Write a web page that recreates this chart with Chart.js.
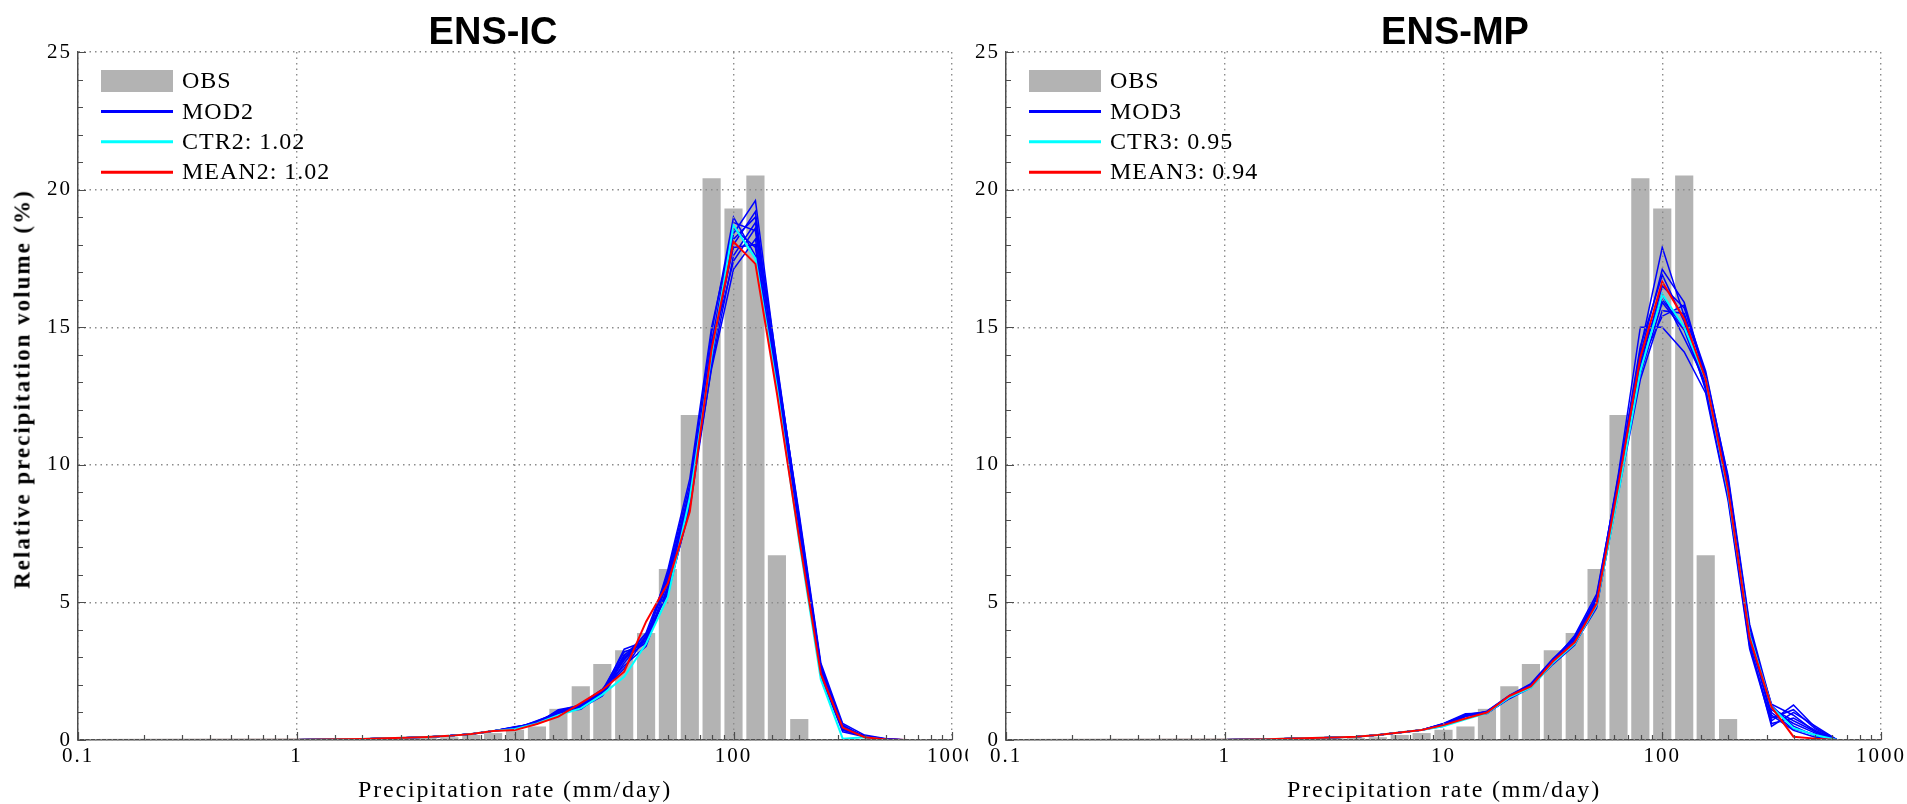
<!DOCTYPE html>
<html>
<head>
<meta charset="utf-8">
<script src="https://cdn.jsdelivr.net/npm/chart.js@4.4.0/dist/chart.umd.min.js"></script>
<style>
  html, body { margin: 0; padding: 0; background: #fff; }
  body { width: 1907px; height: 804px; position: relative; overflow: hidden; font-family: "Liberation Serif", serif; color: #000; }
  .panel { position: absolute; top: 0; height: 804px; }
  #panelIC { left: 0; width: 968px; }
  #panelMP { left: 965px; width: 942px; }
  .title { position: absolute; top: 10px; line-height: 1; font: bold 38px "Liberation Sans", Arial, sans-serif; transform: translateX(-50%); white-space: nowrap; color: #000; }
  .xlabel { position: absolute; top: 777px; line-height: 1; font-size: 24px; letter-spacing: 1.8px; transform: translateX(-50%); white-space: nowrap; }
  .ylabel { position: absolute; left: 22px; top: 389px; line-height: 1; font-size: 23px; font-weight: bold; letter-spacing: 2px; white-space: nowrap; transform: translate(-50%, -50%) rotate(-90deg); }
</style>
</head>
<body>
<div class="panel" id="panelIC"><canvas id="chartIC"></canvas></div>
<div class="panel" id="panelMP"><canvas id="chartMP"></canvas></div>
<div class="title" style="left: 493px;">ENS-IC</div>
<div class="title" style="left: 1455px;">ENS-MP</div>
<div class="xlabel" style="left: 515px;">Precipitation rate (mm/day)</div>
<div class="xlabel" style="left: 1444px;">Precipitation rate (mm/day)</div>
<div class="ylabel">Relative precipitation volume (%)</div>

<script>
// Observed histogram (same in both panels), bins are 0.1 decade wide
const obsRates = [1, 1.26, 1.58, 2, 2.51, 3.16, 3.98, 5.01, 6.31, 7.94, 10, 12.6, 15.8, 20, 25.1, 31.6, 39.8, 50.1, 63.1, 79.4, 100, 126, 158, 200];
const obsVolume = [0.005, 0.007, 0.01, 0.015, 0.025, 0.04, 0.06, 0.09, 0.17, 0.24, 0.36, 0.48, 1.12, 1.94, 2.75, 3.25, 3.88, 6.2, 11.8, 20.4, 19.3, 20.5, 6.7, 0.75];

// Model curves are drawn at these rates
const lineRates = [0.1, 1, 1.26, 1.58, 2, 2.51, 3.16, 3.98, 5.01, 6.31, 7.94, 10, 12.6, 15.8, 20, 25.1, 31.6, 39.8, 50.1, 63.1, 79.4, 100, 126, 158, 200, 251, 316, 398, 501, 631, 1000];

// Low tail (0.1 .. 7.94), shared by the curves of a panel
const tailIC = [0, 0.01, 0.02, 0.03, 0.04, 0.06, 0.08, 0.11, 0.15, 0.22, 0.33];
const tailMP = [0, 0.01, 0.02, 0.03, 0.05, 0.07, 0.09, 0.12, 0.18, 0.27, 0.36];

// ENS-IC, rates 10 .. 1000
const meanIC = [0.36, 0.58, 0.85, 1.34, 1.82, 2.48, 4.3, 5.7, 8.3, 14.2, 18.1, 17.3, 12.6, 7.3, 2.4, 0.45, 0.1, 0.02, 0, 0];
const ctrIC = [0.4, 0.6, 0.9, 1.15, 1.65, 2.3, 3.5, 5.2, 8.8, 14.0, 18.7, 17.5, 12.8, 7.2, 2.2, 0.05, 0.1, 0, 0, 0];
const modIC = [
  [0.45, 0.62, 1.05, 1.2, 1.75, 3.1, 3.6, 6.1, 9.3, 14.8, 19.0, 17.6, 13.2, 7.8, 2.6, 0.4, 0.15, 0.03, 0, 0],
  [0.42, 0.66, 1.0, 1.15, 1.6, 2.8, 3.8, 5.8, 8.9, 14.4, 18.8, 18.5, 13.4, 7.6, 2.5, 0.5, 0.12, 0.02, 0, 0],
  [0.48, 0.6, 1.1, 1.25, 1.8, 3.2, 3.5, 5.5, 8.6, 13.8, 18.4, 19.6, 13.6, 8.1, 2.7, 0.45, 0.1, 0.02, 0, 0],
  [0.4, 0.7, 0.98, 1.22, 1.7, 2.9, 3.9, 6.0, 9.1, 14.1, 18.0, 19.2, 13.0, 7.9, 2.4, 0.35, 0.15, 0.04, 0, 0],
  [0.44, 0.58, 1.08, 1.18, 1.65, 3.0, 3.7, 5.4, 8.4, 13.6, 17.6, 18.8, 13.3, 7.5, 2.6, 0.55, 0.1, 0.02, 0, 0],
  [0.46, 0.64, 0.95, 1.3, 1.85, 2.7, 3.4, 5.6, 8.7, 13.5, 17.1, 18.2, 13.5, 8.2, 2.8, 0.6, 0.18, 0.05, 0, 0],
  [0.43, 0.68, 1.02, 1.12, 1.72, 3.3, 3.6, 6.2, 9.5, 15.0, 18.6, 17.9, 12.9, 7.4, 2.3, 0.3, 0.12, 0.03, 0, 0],
  [0.47, 0.61, 1.06, 1.28, 1.78, 2.6, 3.75, 5.9, 9.0, 14.5, 17.9, 18.0, 13.1, 7.7, 2.5, 0.42, 0.1, 0.02, 0, 0],
  [0.41, 0.65, 0.97, 1.24, 1.68, 3.05, 3.85, 5.3, 8.5, 13.9, 18.2, 19.0, 13.7, 8.0, 2.7, 0.5, 0.14, 0.03, 0, 0],
  [0.45, 0.63, 1.04, 1.16, 1.76, 2.95, 3.55, 5.75, 8.8, 14.2, 17.4, 18.6, 13.2, 7.6, 2.45, 0.38, 0.11, 0.02, 0, 0],
];

// ENS-MP, rates 10 .. 1000
const meanMP = [0.54, 0.78, 1.0, 1.6, 1.95, 2.85, 3.55, 4.95, 9.3, 13.9, 16.65, 15.3, 13.1, 9.1, 3.7, 1.2, 0.12, 0.05, 0, 0];
const ctrMP = [0.5, 0.75, 0.98, 1.55, 1.9, 2.8, 3.5, 4.9, 9.0, 13.4, 16.2, 15.0, 13.1, 9.0, 3.8, 1.2, 0.43, 0.18, 0, 0];
const modMP = [
  [0.55, 0.9, 1.0, 1.55, 2.0, 2.9, 3.6, 5.1, 9.4, 14.2, 17.9, 15.4, 12.9, 9.2, 3.6, 1.0, 0.4, 0.2, 0, 0],
  [0.6, 0.95, 0.98, 1.5, 1.9, 2.8, 3.5, 4.8, 9.1, 14.0, 17.1, 15.9, 13.2, 9.4, 3.9, 1.3, 0.9, 0.3, 0, 0],
  [0.52, 0.85, 1.05, 1.62, 2.05, 2.95, 3.7, 5.2, 9.6, 14.3, 16.9, 15.2, 12.7, 8.8, 3.4, 0.7, 1.27, 0.45, 0, 0],
  [0.58, 0.92, 1.02, 1.58, 1.95, 2.75, 3.45, 5.0, 9.2, 13.6, 16.5, 15.7, 13.4, 9.5, 4.1, 1.1, 0.6, 0.25, 0, 0],
  [0.5, 0.88, 0.96, 1.52, 1.98, 2.85, 3.8, 5.3, 9.5, 13.8, 16.2, 14.6, 13.0, 9.0, 3.5, 0.5, 1.0, 0.5, 0, 0],
  [0.57, 0.93, 1.03, 1.6, 2.02, 2.9, 3.55, 4.9, 9.3, 13.3, 15.9, 14.9, 12.8, 9.3, 3.8, 0.9, 0.35, 0.1, 0, 0],
  [0.53, 0.87, 0.99, 1.56, 1.92, 2.8, 3.65, 5.05, 9.7, 15.0, 15.0, 14.1, 12.6, 8.7, 3.3, 0.6, 0.8, 0.35, 0, 0],
  [0.56, 0.9, 1.01, 1.54, 1.97, 2.88, 3.5, 4.85, 9.0, 13.1, 15.6, 15.5, 13.3, 9.6, 4.2, 1.25, 0.5, 0.15, 0, 0],
  [0.54, 0.86, 1.04, 1.59, 2.0, 2.92, 3.75, 5.15, 9.4, 14.1, 16.0, 15.0, 13.0, 9.1, 3.7, 0.8, 1.1, 0.4, 0, 0],
  [0.59, 0.91, 0.97, 1.53, 1.94, 2.82, 3.6, 4.95, 9.2, 13.7, 15.4, 15.8, 13.1, 9.2, 3.9, 1.15, 0.7, 0.3, 0, 0],
];

const xMin = 0.1;
const xMax = 1000;
const yMax = 25;
const yStep = 5;

const colors = {
  obs: "#b3b3b3",
  mod: "#0000ff",
  ctr: "#00ffff",
  mean: "#ff0000",
  grid: "#8c8c8c",
  axis: "#4d4d4d",
};

const tickFont = { family: "'Liberation Serif', serif", size: 21 };

const isDecade = (v) => {
  const l = Math.log10(v);
  return Math.abs(l - Math.round(l)) < 1e-6;
};

const toPoints = (xs, ys) => xs.map((x, i) => ({ x, y: ys[i] }));

// The original tick labels are a wide serif, so space the canvas text a little
const letterSpacingPlugin = {
  id: "letterSpacing",
  beforeDraw(chart) {
    chart.ctx.letterSpacing = "2px";
  },
  afterDraw(chart) {
    chart.ctx.letterSpacing = "0px";
  },
};

// Small inward tick marks on the bottom and left axes
const minorTicksPlugin = {
  id: "minorTicks",
  afterDraw(chart) {
    const { ctx, chartArea, scales } = chart;
    ctx.save();
    ctx.strokeStyle = colors.axis;
    ctx.lineWidth = 1.2;
    ctx.beginPath();
    scales.x.ticks.forEach((tick) => {
      const px = Math.round(scales.x.getPixelForValue(tick.value)) + 0.5;
      const len = isDecade(tick.value) ? 8 : 5;
      ctx.moveTo(px, chartArea.bottom);
      ctx.lineTo(px, chartArea.bottom - len);
    });
    for (let v = 0; v <= yMax; v++) {
      const py = Math.round(scales.y.getPixelForValue(v)) + 0.5;
      ctx.moveTo(chartArea.left, py);
      ctx.lineTo(chartArea.left + (v % yStep === 0 ? 8 : 5), py);
    }
    ctx.stroke();
    ctx.restore();
  },
};

// Legend drawn inside the top-left corner of the plot
const insetLegendPlugin = {
  id: "insetLegend",
  afterDraw(chart, args, opts) {
    const { ctx, chartArea } = chart;
    const x0 = chartArea.left + 23;
    const swatchW = 72;
    ctx.save();
    ctx.font = "24px 'Liberation Serif', serif";
    ctx.letterSpacing = "1px";
    ctx.textBaseline = "middle";
    opts.items.forEach((item, i) => {
      const yc = chartArea.top + 29 + i * 30.4;
      if (item.box) {
        ctx.fillStyle = item.color;
        ctx.fillRect(x0, yc - 11, swatchW, 22);
      } else {
        ctx.strokeStyle = item.color;
        ctx.lineWidth = 3;
        ctx.beginPath();
        ctx.moveTo(x0, yc);
        ctx.lineTo(x0 + swatchW, yc);
        ctx.stroke();
      }
      ctx.fillStyle = "#000";
      ctx.fillText(item.label, x0 + swatchW + 9, yc + 1);
    });
    ctx.restore();
  },
};

const buildPanel = (canvasId, tail, members, ctr, mean, labels, yWidth, rightPad) => {
  const datasets = [
    {
      type: "line",
      label: labels[3],
      data: toPoints(lineRates, tail.concat(mean)),
      borderColor: colors.mean,
      borderWidth: 2,
      pointRadius: 0,
      order: 1,
    },
    {
      type: "line",
      label: labels[2],
      data: toPoints(lineRates, tail.concat(ctr)),
      borderColor: colors.ctr,
      borderWidth: 2,
      pointRadius: 0,
      order: 2,
    },
  ];

  members.forEach((m, i) => {
    datasets.push({
      type: "line",
      label: `${labels[1]} ${i + 1}`,
      data: toPoints(lineRates, tail.concat(m)),
      borderColor: colors.mod,
      borderWidth: 1.5,
      pointRadius: 0,
      order: 3,
    });
  });

  datasets.push({
    type: "bar",
    label: labels[0],
    data: toPoints(obsRates, obsVolume),
    backgroundColor: colors.obs,
    borderWidth: 0,
    barThickness: 17.5,
    order: 5,
  });

  new Chart(document.getElementById(canvasId), {
    type: "bar",
    data: { datasets },
    plugins: [letterSpacingPlugin, minorTicksPlugin, insetLegendPlugin],
    options: {
      responsive: true,
      maintainAspectRatio: false,
      animation: false,
      layout: { padding: { left: 0, top: 52, right: rightPad, bottom: 34 } },
      plugins: {
        legend: { display: false },
        tooltip: { enabled: false },
        insetLegend: {
          items: [
            { label: labels[0], color: colors.obs, box: true },
            { label: labels[1], color: colors.mod },
            { label: labels[2], color: colors.ctr },
            { label: labels[3], color: colors.mean },
          ],
        },
      },
      scales: {
        x: {
          type: "logarithmic",
          min: xMin,
          max: xMax,
          offset: false,
          grid: {
            offset: false,
            drawTicks: false,
            lineWidth: 1.4,
            z: 1,
            color: (c) => (c.tick && isDecade(c.tick.value) ? colors.grid : "rgba(0,0,0,0)"),
          },
          border: { display: true, color: colors.axis, width: 1.5, dash: [1.5, 4], z: 1 },
          ticks: {
            autoSkip: false,
            maxRotation: 0,
            padding: 4,
            color: "#000",
            font: tickFont,
            callback: (v) => (isDecade(v) ? String(+Number(v).toPrecision(6)) : ""),
          },
          afterFit: (scale) => {
            scale.height = 30;
            scale.paddingLeft = 0;
            scale.paddingRight = 0;
          },
        },
        y: {
          type: "linear",
          min: 0,
          max: yMax,
          grid: { drawTicks: false, lineWidth: 1.4, z: 1, color: colors.grid },
          border: { display: true, color: colors.axis, width: 1.5, dash: [1.5, 4], z: 1 },
          ticks: { stepSize: yStep, padding: 6, color: "#000", font: tickFont },
          afterFit: (scale) => {
            scale.width = yWidth;
          },
        },
      },
    },
  });
};

document.addEventListener("DOMContentLoaded", () => {
  buildPanel("chartIC", tailIC, modIC, ctrIC, meanIC, ["OBS", "MOD2", "CTR2: 1.02", "MEAN2: 1.02"], 78, 16);
  buildPanel("chartMP", tailMP, modMP, ctrMP, meanMP, ["OBS", "MOD3", "CTR3: 0.95", "MEAN3: 0.94"], 41, 26);
});
</script>
</body>
</html>
